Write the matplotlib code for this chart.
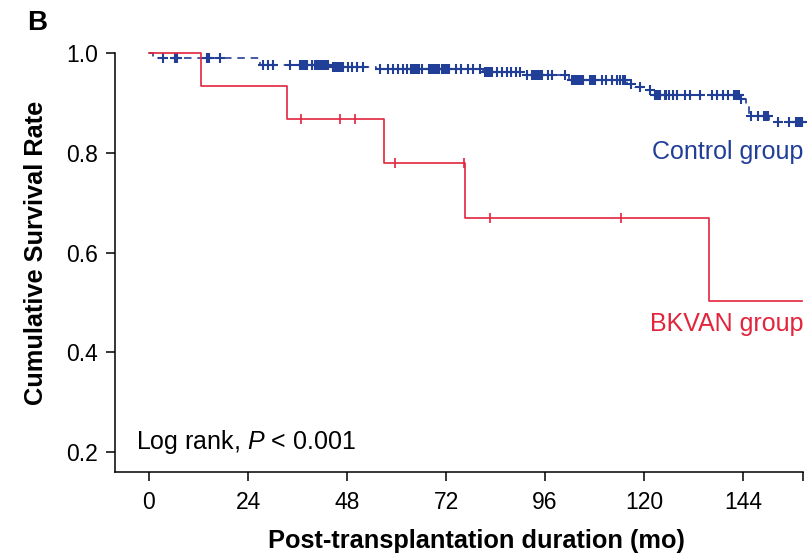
import numpy as np
import matplotlib
matplotlib.use('Agg')
import matplotlib.pyplot as plt

plt.rcParams['font.family'] = ['Liberation Sans', 'DejaVu Sans']
plt.rcParams['mathtext.fontset'] = 'custom'
plt.rcParams['mathtext.rm'] = 'Liberation Sans'
plt.rcParams['mathtext.it'] = 'Liberation Sans:italic'

BLUE = '#223f98'
RED = '#e3253c'

# --- data (months, survival) ---
ctrl_event_t = [1.0, 27.0, 44.3, 55.1, 81.0, 91.2, 101.7, 115.8, 117.8, 119.8, 122.3, 143.0, 144.6, 145.3, 150.3]
ctrl_event_s = [0.989, 0.976, 0.971, 0.968, 0.962, 0.956, 0.946, 0.937, 0.931, 0.926, 0.916, 0.907, 0.896, 0.873, 0.862]
ctrl_end = 158.5
ctrl_censor = [
    3.5, 6.3, 6.8, 14.0, 14.6, 17.2, 27.7, 28.9, 30.1, 34.2,
    36.6, 37.0, 37.4, 37.8, 38.2, 39.5,
    40.2, 40.6, 41.0, 41.4, 41.8, 42.2, 42.6, 43.0, 43.4,
    44.5, 44.9, 45.3, 45.7, 46.1, 46.5, 46.9,
    48.3, 49.3, 50.3, 51.9, 56.0, 58.0, 59.2, 60.4, 61.6, 62.5,
    63.4, 63.8, 64.2, 64.6, 65.0, 65.4, 66.1,
    67.8, 68.2, 68.6, 69.0, 69.4, 69.8, 70.2,
    71.0, 71.4, 71.8, 72.2, 72.6,
    74.4, 75.6, 77.2, 78.6, 80.2,
    81.5, 81.9, 82.3, 82.7, 83.1,
    84.3, 85.5, 86.7, 87.7, 88.9, 89.9, 91.6,
    92.8, 93.2, 93.6, 94.0, 94.4, 94.8, 95.2,
    96.8, 97.6, 100.8,
    102.5, 102.9, 103.3, 103.7, 104.1, 104.5, 104.9, 105.3,
    106.9, 107.4, 107.8, 108.2,
    109.7, 110.8, 112.2, 113.4, 114.2, 114.8, 115.4,
    116.8, 119.0, 121.5,
    122.6, 123.0, 123.4, 123.9, 125.0, 125.4, 126.1, 127.1, 128.0,
    129.9, 131.1, 133.6, 136.4, 137.6, 139.2, 140.4,
    141.7, 142.1, 142.5, 142.9, 143.4,
    145.8, 147.7, 149.0, 149.5, 150.0,
    152.5, 155.0, 156.7, 157.1, 157.5, 157.9, 158.3,
]

bk_event_t = [12.5, 33.5, 57.0, 76.5, 135.6]
bk_event_s = [0.933, 0.867, 0.780, 0.670, 0.502]
bk_end = 158.2
bk_censor = [36.9, 46.4, 50.0, 59.6, 76.4, 82.7, 114.3]

x_ticks = [0, 24, 48, 72, 96, 120, 144]
y_ticks = [0.2, 0.4, 0.6, 0.8, 1.0]


def km_curve(event_t, event_s, end):
    t = np.array([0.0] + list(event_t) + [end])
    s = np.array([1.0] + list(event_s) + [event_s[-1]])
    return t, s


def level_at(t, s, times):
    idx = np.searchsorted(t, times, side='right') - 1
    return s[idx]


fig = plt.figure(figsize=(8.09, 5.56), dpi=100)
ax = fig.add_axes([115 / 809, 1 - 472 / 556, (803 - 115) / 809, (472 - 53) / 556])

# control group: dashed step line with + censor marks
ct, cs = km_curve(ctrl_event_t, ctrl_event_s, ctrl_end)
ax.step(ct, cs, where='post', color=BLUE, lw=1.2, ls=(0, (4.5, 3.5)), clip_on=False, zorder=2)
ax.plot(ctrl_censor, level_at(ct, cs, ctrl_censor), ls='none', marker='+',
        ms=7, mew=1.5, color=BLUE, clip_on=False, zorder=3)

# BKVAN group: solid step line with | censor marks
bt, bs = km_curve(bk_event_t, bk_event_s, bk_end)
ax.step(bt, bs, where='post', color=RED, lw=1.2, clip_on=False, zorder=4)
ax.plot(bk_censor, level_at(bt, bs, bk_censor), ls='none', marker='|',
        ms=6.5, mew=1.2, color=RED, clip_on=False, zorder=4)

ax.set_xlim(-8.24, 158.5)
ax.set_ylim(0.16, 1.0)
ax.set_xticks(x_ticks)
ax.set_xticks([158.5], minor=True)
ax.set_yticks(y_ticks)
ax.set_yticklabels([f'{v:.1f}' for v in y_ticks])

for side in ['top', 'right']:
    ax.spines[side].set_visible(False)
for side in ['left', 'bottom']:
    ax.spines[side].set_linewidth(1.1)

ax.tick_params(axis='both', which='both', direction='out', length=6.5, width=1.1, labelsize=16.5)
ax.tick_params(axis='x', pad=7)
ax.tick_params(axis='y', pad=6)

ax.set_xlabel('Post-transplantation duration (mo)', fontsize=18.3, fontweight='bold')
ax.set_ylabel('Cumulative Survival Rate', fontsize=18.3, fontweight='bold')
ax.xaxis.set_label_coords(0.526, -0.137)
ax.yaxis.set_label_coords(-0.097, 0.524)

ax.text(158.5, 0.802, 'Control group', color=BLUE, fontsize=18, ha='right', va='center')
ax.text(158.5, 0.456, 'BKVAN group', color=RED, fontsize=18, ha='right', va='center')
ax.text(-3.2, 0.22, 'Log rank, $P$ < 0.001', color='black', fontsize=18, ha='left', va='center')

fig.text(27 / 809, 1 - 10 / 556, 'B', fontsize=20, fontweight='bold', ha='left', va='top')

fig.savefig('out.png', dpi=100)
